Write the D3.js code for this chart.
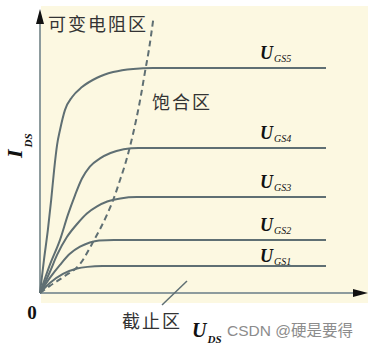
<!DOCTYPE html>
<html lang="zh">
<head>
<meta charset="UTF-8">
<title>MOSFET 输出特性</title>
<script src="https://d3js.org/d3.v7.min.js"></script>
<style>
  html, body { margin: 0; padding: 0; background: #fff; }
  svg { display: block; }
  .cn { font-family: "Noto Sans CJK SC", sans-serif; font-size: 18px; fill: #333; letter-spacing: 2px; }
  .sym { font-family: "Liberation Serif", "DejaVu Serif", serif; font-style: italic; font-weight: bold; fill: #111; }
</style>
</head>
<body>
<div id="chart"></div>
<script>
  // gate-source levels, bottom to top
  const gateLabels = ["GS1", "GS2", "GS3", "GS4", "GS5"];

  // each curve: [U_DS, I_DS] in arbitrary units
  const ugs1 = [[0, 0], [0.30, 0.35], [0.70, 0.67], [1.13, 0.86], [1.45, 0.92], [1.90, 0.95], [8.72, 0.95]];
  const ugs2 = [[0, 0], [0.30, 0.53], [0.61, 0.99], [0.91, 1.38], [1.22, 1.63], [1.52, 1.78], [1.80, 1.85], [2.25, 1.87], [8.72, 1.87]];
  const ugs3 = [[0, 0], [0.30, 0.74], [0.52, 1.34], [0.82, 1.97], [1.13, 2.43], [1.43, 2.80], [1.74, 3.05], [2.05, 3.22], [2.45, 3.33], [2.95, 3.38], [8.72, 3.38]];
  const ugs4 = [[0, 0], [0.30, 0.99], [0.61, 1.87], [0.85, 2.75], [1.07, 3.45], [1.28, 4.03], [1.52, 4.45], [1.83, 4.74], [2.15, 4.93], [2.55, 5.06], [3.00, 5.11], [8.72, 5.11]];
  const ugs5 = [[0, 0], [0.12, 1.16], [0.24, 2.22], [0.34, 3.27], [0.43, 4.33], [0.52, 5.21], [0.61, 5.74], [0.76, 6.44], [0.98, 6.90], [1.28, 7.25], [1.74, 7.58], [2.23, 7.78], [2.84, 7.89], [3.45, 7.92], [8.72, 7.92]];

  // pinch-off boundary (dashed)
  const boundary = [[0, 0], [0.30, 0.25], [0.76, 0.60], [1.22, 1.02], [1.62, 1.80], [2.04, 2.75], [2.23, 3.27], [2.44, 3.98], [2.59, 4.51], [2.74, 5.14], [2.93, 6.09], [3.08, 6.97], [3.20, 7.78], [3.32, 8.56], [3.45, 9.61]];

  const curves = [ugs1, ugs2, ugs3, ugs4, ugs5];
  const labelUds = 6.71;

  const width = 379, height = 349;
  const lineColor = "#5f6f73";

  const svg = d3.select("#chart").append("svg")
    .attr("width", width)
    .attr("height", height);

  const x = d3.scaleLinear().domain([0, 10]).range([40, 368]);
  const y = d3.scaleLinear().domain([0, 10]).range([293, 9]);

  // cream panel
  svg.append("rect")
    .attr("x", x(0) + 1).attr("y", 6)
    .attr("width", x(10) - x(0) - 1).attr("height", 297)
    .attr("fill", "#fcf8e1");

  const line = d3.line()
    .x(d => x(d[0]))
    .y(d => y(d[1]))
    .curve(d3.curveMonotoneX);

  // axes
  svg.append("line")
    .attr("x1", x(0)).attr("y1", y(0))
    .attr("x2", x(0)).attr("y2", y(10) + 10)
    .attr("stroke", "#8d9b9d").attr("stroke-width", 2);
  svg.append("line")
    .attr("x1", x(0)).attr("y1", y(0))
    .attr("x2", x(10) - 10).attr("y2", y(0))
    .attr("stroke", "#8d9b9d").attr("stroke-width", 2);

  svg.append("path")
    .attr("d", `M${x(0)},${y(10)} L${x(0) - 4},${y(10) + 15} L${x(0) + 4},${y(10) + 15} Z`)
    .attr("fill", "#111");
  svg.append("path")
    .attr("d", `M${x(10)},${y(0)} L${x(10) - 15},${y(0) - 4} L${x(10) - 15},${y(0) + 4} Z`)
    .attr("fill", "#111");

  // characteristic curves
  svg.selectAll(".curve")
    .data(curves)
    .enter().append("path")
    .attr("class", "curve")
    .attr("d", line)
    .attr("fill", "none")
    .attr("stroke", lineColor)
    .attr("stroke-width", 2);

  svg.append("path")
    .datum(boundary)
    .attr("d", line)
    .attr("fill", "none")
    .attr("stroke", lineColor)
    .attr("stroke-width", 2)
    .attr("stroke-dasharray", "6,4");

  // U_GS labels
  const lab = svg.selectAll(".ugs")
    .data(curves)
    .enter().append("text")
    .attr("class", "sym")
    .attr("x", x(labelUds))
    .attr("y", (d, i) => y(d[d.length - 1][1]) - (i === 0 ? 4 : 9))
    .style("font-size", "18px");
  lab.append("tspan").text("U");
  lab.append("tspan")
    .attr("dx", 1).attr("dy", 3)
    .style("font-size", "10px").style("font-weight", "normal")
    .text((d, i) => gateLabels[i]);

  // region names
  svg.append("text").attr("class", "cn")
    .attr("x", 48).attr("y", 23).attr("dominant-baseline", "central")
    .text("可变电阻区");
  svg.append("text").attr("class", "cn")
    .attr("x", 152).attr("y", 101).attr("dominant-baseline", "central")
    .text("饱合区");
  svg.append("text").attr("class", "cn")
    .attr("x", 122).attr("y", 320).attr("dominant-baseline", "central")
    .text("截止区");
  svg.append("line")
    .attr("x1", 162).attr("y1", 305).attr("x2", 187).attr("y2", 281)
    .attr("stroke", lineColor).attr("stroke-width", 1.5);

  // axis titles
  const iTitle = svg.append("text").attr("class", "sym")
    .attr("transform", "translate(22,158) rotate(-90)")
    .style("font-size", "22px");
  iTitle.append("tspan").text("I");
  iTitle.append("tspan").attr("dx", 2).attr("dy", 10)
    .style("font-size", "11px").text("DS");

  const uTitle = svg.append("text").attr("class", "sym")
    .attr("x", 192).attr("y", 337)
    .style("font-size", "20px");
  uTitle.append("tspan").text("U");
  uTitle.append("tspan").attr("dx", 1).attr("dy", 6)
    .style("font-size", "11px").text("DS");

  svg.append("text").attr("class", "sym")
    .attr("x", 32).attr("y", 319).attr("text-anchor", "middle")
    .style("font-size", "19px").style("font-style", "normal")
    .text("0");

  // watermark
  svg.append("text")
    .attr("x", 227).attr("y", 336)
    .style("font-family", "'Liberation Sans', 'Noto Sans CJK SC', sans-serif")
    .style("font-size", "15.5px")
    .attr("fill", "#8c8c8c")
    .text("CSDN @硬是要得");
</script>
</body>
</html>
